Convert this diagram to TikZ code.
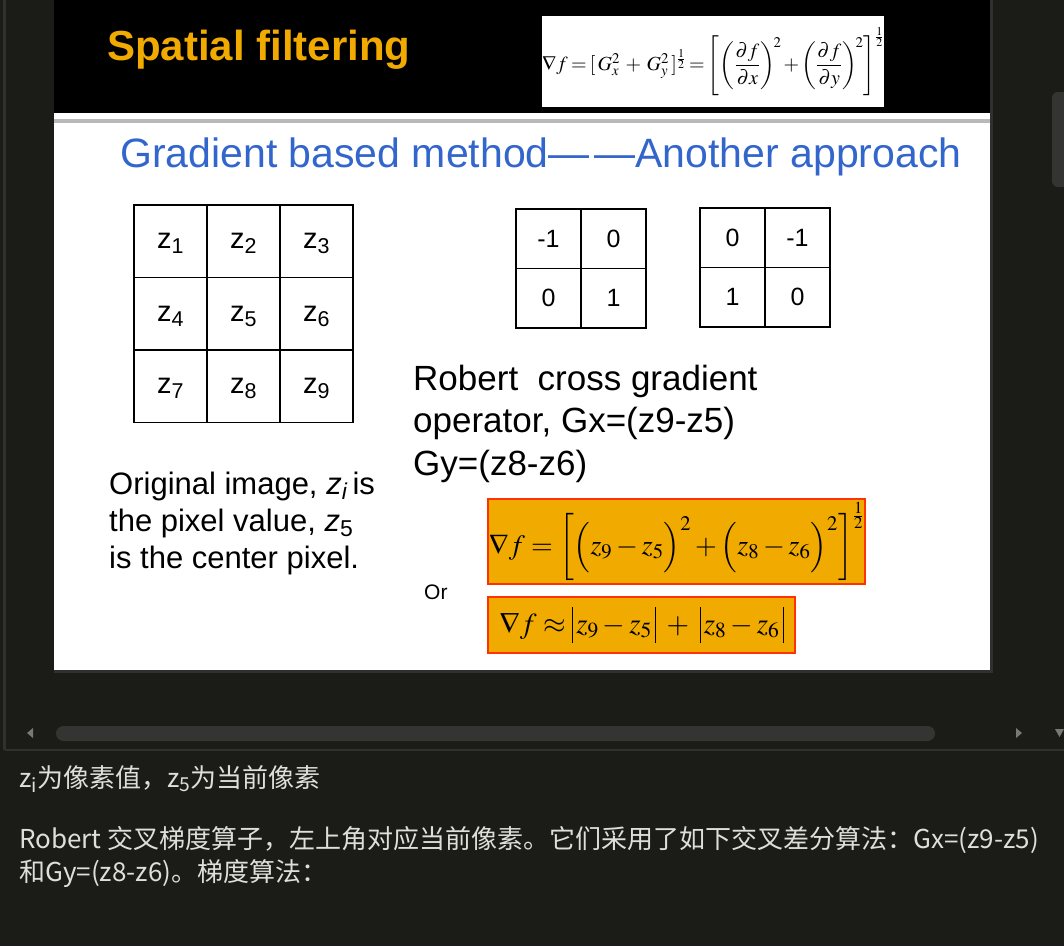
\documentclass[tikz,border=0pt]{standalone}
\usepackage{amsmath}
\usepackage{mathptmx}
\usepackage[no-math]{fontspec}
\setmainfont{Liberation Sans}
\newfontfamily\cjk{Noto Sans CJK SC}
\definecolor{panelbg}{RGB}{27, 27, 23}
\definecolor{edgegray}{RGB}{48, 48, 46}
\definecolor{barthumb}{RGB}{52, 52, 50}
\definecolor{arrowgray}{RGB}{120, 120, 118}
\definecolor{slideorange}{RGB}{240, 170, 0}
\definecolor{headblue}{RGB}{51, 102, 204}
\definecolor{boxred}{RGB}{255, 51, 0}
\definecolor{notegray}{RGB}{222, 222, 220}
\newcommand{\absbar}{\rule[-10pt]{1pt}{36pt}}

\begin{document}
\begin{tikzpicture}[
        x=1pt, y=-1pt,
        cell/.style={draw, line width=1.6pt, minimum width=73pt, minimum height=72.5pt, inner sep=0pt, text depth=0pt, font=\fontsize{29}{34}\selectfont},
        kcell/.style={draw, line width=1.6pt, minimum width=65pt, minimum height=59.5pt, inner sep=0pt, font=\fontsize{25}{30}\selectfont},
        fbox/.style={draw=boxred, line width=2pt, fill=slideorange, inner sep=0pt},
        note/.style={anchor=base west, inner sep=0pt, align=left, text=notegray}
      ]
        \useasboundingbox (0,0) rectangle (1064,946);
        % window and slide
        \fill[panelbg] (0,0) rectangle (1064,946);
        \draw[edgegray, line width=3pt] (4.5,0) -- (4.5,750);
        \fill[black] (54,0) rectangle (990,113);
        \fill[white] (54,113) rectangle (990,670);
        \draw[gray!55, line width=4pt] (54,121) -- (990,121);
        \draw[edgegray, line width=2.5pt] (991.5,0) -- (991.5,671.5) -- (54,671.5);
        \fill[barthumb, rounded corners=6pt] (1052,92) rectangle (1076,187);
        \fill[barthumb, rounded corners=7.5pt] (56,726) rectangle (935,741);
        \fill[arrowgray] (33,728) -- (27,733) -- (33,738) -- cycle;
        \fill[arrowgray] (1016,728) -- (1022,733) -- (1016,738) -- cycle;
        \fill[arrowgray] (1055,729) -- (1064,729) -- (1059.5,737) -- cycle;
        \draw[edgegray, line width=2pt] (5,750) -- (1064,750);

        \node[anchor=base west, inner sep=0pt, text=slideorange, font=\fontsize{42}{50}\selectfont\bfseries] (title) at (107,60) {Spatial filtering};
        \node[fill=white, minimum width=338pt, minimum height=91pt, inner sep=0pt, font=\fontsize{20}{25}\selectfont] (gradformula) at (713,61.5)
          {\medmuskip=2mu\thickmuskip=3mu$\nabla f=[\,G_x^2\;+\;G_y^2\,]^{\frac{1}{2}}=\left[\left(\dfrac{\partial f}{\partial x}\right)^{\!2}+\left(\dfrac{\partial f}{\partial y}\right)^{\!2}\right]^{\frac{1}{2}}$};
        \node[anchor=base west, inner sep=0pt, text=headblue, font=\fontsize{41}{49}\selectfont] (heading) at (120,167) {Gradient based method—\kern5pt—Another approach};

        % 3x3 image
        \node[cell] (z1) at (170.5,241.25) {z\textsubscript{1}};
        \node[cell] (z2) at (243.5,241.25) {z\textsubscript{2}};
        \node[cell] (z3) at (316.5,241.25) {z\textsubscript{3}};
        \node[cell] (z4) at (170.5,313.75) {z\textsubscript{4}};
        \node[cell] (z5) at (243.5,313.75) {z\textsubscript{5}};
        \node[cell] (z6) at (316.5,313.75) {z\textsubscript{6}};
        \node[cell] (z7) at (170.5,386.25) {z\textsubscript{7}};
        \node[cell] (z8) at (243.5,386.25) {z\textsubscript{8}};
        \node[cell] (z9) at (316.5,386.25) {z\textsubscript{9}};

        % Robert cross kernels
        \node[kcell] (gxa) at (548.5,238.75) {-1};
        \node[kcell] (gxb) at (613.5,238.75) {0};
        \node[kcell] (gxc) at (548.5,298.25) {0};
        \node[kcell] (gxd) at (613.5,298.25) {1};
        \node[kcell] (gya) at (732.5,237.75) {0};
        \node[kcell] (gyb) at (797.5,237.75) {-1};
        \node[kcell] (gyc) at (732.5,297.25) {1};
        \node[kcell] (gyd) at (797.5,297.25) {0};

        \node[anchor=base west, inner sep=0pt, align=left, font=\fontsize{35}{42.5}\selectfont] (robert) at (413,475)
          {Robert~ cross gradient\\operator, Gx=(z9-z5)\\Gy=(z8-z6)};
        \node[anchor=base west, inner sep=0pt, align=left, font=\fontsize{31}{37}\selectfont] (original) at (109,568)
          {Original image, \textit{z\textsubscript{i}}\,is\\the pixel value, \textit{z}\textsubscript{5}\\is the center pixel.};
        \node[anchor=base west, inner sep=0pt, font=\fontsize{21}{25}\selectfont] (orword) at (424,599) {Or};

        \node[fbox, minimum width=377pt, minimum height=85pt, font=\fontsize{28}{34}\selectfont] (fullnorm) at (676.5,541.5)
          {$\nabla f=\bigg[\Big(z_9-z_5\Big)^2+\Big(z_8-z_6\Big)^2\bigg]^{\frac{1}{2}}$};
        \node[fbox, minimum width=307pt, minimum height=56pt, font=\fontsize{29}{34}\selectfont] (approxnorm) at (641.5,625)
          {$\nabla f\approx\mathopen{\absbar}\,z_9-z_5\,\mathclose{\absbar}\;+\;\mathopen{\absbar}\,z_8-z_6\,\mathclose{\absbar}$};

        % notes under the slide
        \node[note, font=\cjk\fontsize{26}{33}\selectfont] (notezi) at (19,787) {z\textsubscript{\textit{i}}为像素值，z\textsubscript{5}为当前像素};
        \node[note, font=\cjk\fontsize{26}{33}\selectfont] (noterobert) at (19,881)
          {Robert 交叉梯度算子，左上角对应当前像素。它们采用了如下交叉差分算法：Gx=(z9-z5)\\和Gy=(z8-z6)。梯度算法：};
      \end{tikzpicture}
\end{document}
